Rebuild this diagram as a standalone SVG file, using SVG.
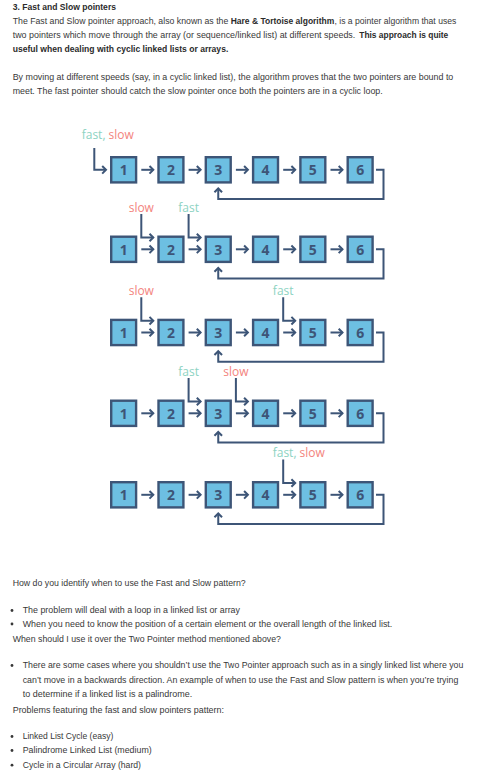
<svg xmlns="http://www.w3.org/2000/svg" width="477" height="774" viewBox="0 0 477 774">
<style>
.t{font-family:"Liberation Sans",Arial,sans-serif;font-size:8.8px;fill:#383838}
.b{font-weight:bold;fill:#2b2b2b}
.box{fill:#6dbfe2;stroke:#3d5577;stroke-width:2.4}
.num{font-family:"Open Sans","Liberation Sans",sans-serif;font-weight:bold;font-size:14px;fill:#3d5577;text-anchor:middle}
.lbl{font-family:"Open Sans","Liberation Sans",sans-serif;font-size:12px}
.fast{fill:#8dd3c2}
.slow{fill:#f3847d}
.m{text-anchor:middle}
.ln{fill:none;stroke:#3d5577;stroke-width:2;marker-end:url(#ah)}
.dot{fill:#383838}
</style>
<defs>
<marker id="ah" viewBox="0 0 10 10" refX="8" refY="5" markerWidth="10" markerHeight="10" markerUnits="userSpaceOnUse" orient="auto">
<path d="M4.2,1.2 L8,5 L4.2,8.8" fill="none" stroke="#3d5577" stroke-width="2"/>
</marker>
</defs>

<g id="intro">
<text class="t b" x="12.7" y="9.5" textLength="103.3" lengthAdjust="spacingAndGlyphs">3. Fast and Slow pointers</text>
<text class="t" x="12.7" y="23.7" textLength="215.6" lengthAdjust="spacingAndGlyphs">The Fast and Slow pointer approach, also known as the</text>
<text class="t b" x="230.7" y="23.7" textLength="103.6" lengthAdjust="spacingAndGlyphs">Hare &amp; Tortoise algorithm</text>
<text class="t" x="334.5" y="23.7" textLength="121.8" lengthAdjust="spacingAndGlyphs">, is a pointer algorithm that uses</text>
<text class="t" x="12.7" y="38" textLength="342.6" lengthAdjust="spacingAndGlyphs">two pointers which move through the array (or sequence/linked list) at different speeds.</text>
<text class="t b" x="359.3" y="38" textLength="89" lengthAdjust="spacingAndGlyphs">This approach is quite</text>
<text class="t b" x="12.7" y="52.3" textLength="215.6" lengthAdjust="spacingAndGlyphs">useful when dealing with cyclic linked lists or arrays.</text>
<text class="t" x="12.7" y="80" textLength="440.6" lengthAdjust="spacingAndGlyphs">By moving at different speeds (say, in a cyclic linked list), the algorithm proves that the two pointers are bound to</text>
<text class="t" x="12.7" y="94.3" textLength="370" lengthAdjust="spacingAndGlyphs">meet. The fast pointer should catch the slow pointer once both the pointers are in a cyclic loop.</text>
</g>

<!-- Row 1 -->
<g id="row1" transform="translate(0,156)">
<g id="r1n1"><rect class="box" x="111.2" y="1.2" width="24.9" height="25.2"/><text class="num" x="123.65" y="19">1</text></g>
<g id="r1n2"><rect class="box" x="158.5" y="1.2" width="24.9" height="25.2"/><text class="num" x="170.95" y="19">2</text></g>
<g id="r1n3"><rect class="box" x="205.8" y="1.2" width="24.9" height="25.2"/><text class="num" x="218.25" y="19">3</text></g>
<g id="r1n4"><rect class="box" x="253.1" y="1.2" width="24.9" height="25.2"/><text class="num" x="265.55" y="19">4</text></g>
<g id="r1n5"><rect class="box" x="300.4" y="1.2" width="24.9" height="25.2"/><text class="num" x="312.85" y="19">5</text></g>
<g id="r1n6"><rect class="box" x="347.7" y="1.2" width="24.9" height="25.2"/><text class="num" x="360.15" y="19">6</text></g>
<g id="r1labels"><text class="lbl" x="81.7" y="-17"><tspan class="fast">fast,</tspan><tspan class="slow"> slow</tspan></text></g>
<g id="r1connectors">
<path class="ln" d="M141.3,13.8 H153.3"/>
<path class="ln" d="M188.6,13.8 H200.6"/>
<path class="ln" d="M235.9,13.8 H247.9"/>
<path class="ln" d="M283.2,13.8 H295.2"/>
<path class="ln" d="M330.5,13.8 H342.5"/>
<path class="ln" d="M376,13.8 H383.5 V43 H218.25 V32.5"/>
<path class="ln" d="M94.3,-8 V13.8 H106"/>
</g>
</g>

<!-- Row 2 -->
<g id="row2" transform="translate(0,235.5)">
<g id="r2n1"><rect class="box" x="111.2" y="1.2" width="24.9" height="25.2"/><text class="num" x="123.65" y="19">1</text></g>
<g id="r2n2"><rect class="box" x="158.5" y="1.2" width="24.9" height="25.2"/><text class="num" x="170.95" y="19">2</text></g>
<g id="r2n3"><rect class="box" x="205.8" y="1.2" width="24.9" height="25.2"/><text class="num" x="218.25" y="19">3</text></g>
<g id="r2n4"><rect class="box" x="253.1" y="1.2" width="24.9" height="25.2"/><text class="num" x="265.55" y="19">4</text></g>
<g id="r2n5"><rect class="box" x="300.4" y="1.2" width="24.9" height="25.2"/><text class="num" x="312.85" y="19">5</text></g>
<g id="r2n6"><rect class="box" x="347.7" y="1.2" width="24.9" height="25.2"/><text class="num" x="360.15" y="19">6</text></g>
<g id="r2labels">
<text class="lbl slow m" x="141.3" y="-24">slow</text>
<text class="lbl fast m" x="188.6" y="-24">fast</text>
</g>
<g id="r2connectors">
<path class="ln" d="M141.3,13.8 H153.3"/>
<path class="ln" d="M188.6,13.8 H200.6"/>
<path class="ln" d="M235.9,13.8 H247.9"/>
<path class="ln" d="M283.2,13.8 H295.2"/>
<path class="ln" d="M330.5,13.8 H342.5"/>
<path class="ln" d="M376,13.8 H383.5 V43 H218.25 V32.5"/>
<path class="ln" d="M141.3,-21.5 V2 H153.3"/>
<path class="ln" d="M188.6,-21.5 V2 H200.6"/>
</g>
</g>

<!-- Row 3 -->
<g id="row3" transform="translate(0,318.7)">
<g id="r3n1"><rect class="box" x="111.2" y="1.2" width="24.9" height="25.2"/><text class="num" x="123.65" y="19">1</text></g>
<g id="r3n2"><rect class="box" x="158.5" y="1.2" width="24.9" height="25.2"/><text class="num" x="170.95" y="19">2</text></g>
<g id="r3n3"><rect class="box" x="205.8" y="1.2" width="24.9" height="25.2"/><text class="num" x="218.25" y="19">3</text></g>
<g id="r3n4"><rect class="box" x="253.1" y="1.2" width="24.9" height="25.2"/><text class="num" x="265.55" y="19">4</text></g>
<g id="r3n5"><rect class="box" x="300.4" y="1.2" width="24.9" height="25.2"/><text class="num" x="312.85" y="19">5</text></g>
<g id="r3n6"><rect class="box" x="347.7" y="1.2" width="24.9" height="25.2"/><text class="num" x="360.15" y="19">6</text></g>
<g id="r3labels">
<text class="lbl slow m" x="141.3" y="-24">slow</text>
<text class="lbl fast m" x="283.2" y="-24">fast</text>
</g>
<g id="r3connectors">
<path class="ln" d="M141.3,13.8 H153.3"/>
<path class="ln" d="M188.6,13.8 H200.6"/>
<path class="ln" d="M235.9,13.8 H247.9"/>
<path class="ln" d="M283.2,13.8 H295.2"/>
<path class="ln" d="M330.5,13.8 H342.5"/>
<path class="ln" d="M376,13.8 H383.5 V43 H218.25 V32.5"/>
<path class="ln" d="M141.3,-21.5 V2 H153.3"/>
<path class="ln" d="M283.2,-21.5 V2 H295.2"/>
</g>
</g>

<!-- Row 4 -->
<g id="row4" transform="translate(0,399.5)">
<g id="r4n1"><rect class="box" x="111.2" y="1.2" width="24.9" height="25.2"/><text class="num" x="123.65" y="19">1</text></g>
<g id="r4n2"><rect class="box" x="158.5" y="1.2" width="24.9" height="25.2"/><text class="num" x="170.95" y="19">2</text></g>
<g id="r4n3"><rect class="box" x="205.8" y="1.2" width="24.9" height="25.2"/><text class="num" x="218.25" y="19">3</text></g>
<g id="r4n4"><rect class="box" x="253.1" y="1.2" width="24.9" height="25.2"/><text class="num" x="265.55" y="19">4</text></g>
<g id="r4n5"><rect class="box" x="300.4" y="1.2" width="24.9" height="25.2"/><text class="num" x="312.85" y="19">5</text></g>
<g id="r4n6"><rect class="box" x="347.7" y="1.2" width="24.9" height="25.2"/><text class="num" x="360.15" y="19">6</text></g>
<g id="r4labels">
<text class="lbl fast m" x="188.6" y="-24">fast</text>
<text class="lbl slow m" x="235.9" y="-24">slow</text>
</g>
<g id="r4connectors">
<path class="ln" d="M141.3,13.8 H153.3"/>
<path class="ln" d="M188.6,13.8 H200.6"/>
<path class="ln" d="M235.9,13.8 H247.9"/>
<path class="ln" d="M283.2,13.8 H295.2"/>
<path class="ln" d="M330.5,13.8 H342.5"/>
<path class="ln" d="M376,13.8 H383.5 V43 H218.25 V32.5"/>
<path class="ln" d="M188.6,-21.5 V2 H200.6"/>
<path class="ln" d="M235.9,-21.5 V2 H247.9"/>
</g>
</g>

<!-- Row 5 -->
<g id="row5" transform="translate(0,481)">
<g id="r5n1"><rect class="box" x="111.2" y="1.2" width="24.9" height="25.2"/><text class="num" x="123.65" y="19">1</text></g>
<g id="r5n2"><rect class="box" x="158.5" y="1.2" width="24.9" height="25.2"/><text class="num" x="170.95" y="19">2</text></g>
<g id="r5n3"><rect class="box" x="205.8" y="1.2" width="24.9" height="25.2"/><text class="num" x="218.25" y="19">3</text></g>
<g id="r5n4"><rect class="box" x="253.1" y="1.2" width="24.9" height="25.2"/><text class="num" x="265.55" y="19">4</text></g>
<g id="r5n5"><rect class="box" x="300.4" y="1.2" width="24.9" height="25.2"/><text class="num" x="312.85" y="19">5</text></g>
<g id="r5n6"><rect class="box" x="347.7" y="1.2" width="24.9" height="25.2"/><text class="num" x="360.15" y="19">6</text></g>
<g id="r5labels"><text class="lbl" x="272.7" y="-24"><tspan class="fast">fast,</tspan><tspan class="slow"> slow</tspan></text></g>
<g id="r5connectors">
<path class="ln" d="M141.3,13.8 H153.3"/>
<path class="ln" d="M188.6,13.8 H200.6"/>
<path class="ln" d="M235.9,13.8 H247.9"/>
<path class="ln" d="M283.2,13.8 H295.2"/>
<path class="ln" d="M330.5,13.8 H342.5"/>
<path class="ln" d="M376,13.8 H383.5 V43 H218.25 V32.5"/>
<path class="ln" d="M283.2,-21.5 V2 H295.2"/>
</g>
</g>

<g id="outro">
<text class="t" x="12.7" y="586" textLength="233" lengthAdjust="spacingAndGlyphs">How do you identify when to use the Fast and Slow pattern?</text>
<circle class="dot" cx="12" cy="610.5" r="1.4"/>
<text class="t" x="22.7" y="613.3" textLength="217.3" lengthAdjust="spacingAndGlyphs">The problem will deal with a loop in a linked list or array</text>
<circle class="dot" cx="12" cy="624" r="1.4"/>
<text class="t" x="22.7" y="626.7" textLength="369.6" lengthAdjust="spacingAndGlyphs">When you need to know the position of a certain element or the overall length of the linked list.</text>
<text class="t" x="12.7" y="641.7" textLength="268.3" lengthAdjust="spacingAndGlyphs">When should I use it over the Two Pointer method mentioned above?</text>
<circle class="dot" cx="12" cy="665.5" r="1.4"/>
<text class="t" x="22.7" y="668.3" textLength="440.6" lengthAdjust="spacingAndGlyphs">There are some cases where you shouldn’t use the Two Pointer approach such as in a singly linked list where you</text>
<text class="t" x="22.7" y="683" textLength="435.6" lengthAdjust="spacingAndGlyphs">can’t move in a backwards direction. An example of when to use the Fast and Slow pattern is when you’re trying</text>
<text class="t" x="22.7" y="696.7" textLength="169.6" lengthAdjust="spacingAndGlyphs">to determine if a linked list is a palindrome.</text>
<text class="t" x="12.7" y="713.3" textLength="211.3" lengthAdjust="spacingAndGlyphs">Problems featuring the fast and slow pointers pattern:</text>
<circle class="dot" cx="12" cy="736.5" r="1.4"/>
<text class="t" x="22.7" y="739.3" textLength="90.6" lengthAdjust="spacingAndGlyphs">Linked List Cycle (easy)</text>
<circle class="dot" cx="12" cy="750.5" r="1.4"/>
<text class="t" x="22.7" y="753.3" textLength="129" lengthAdjust="spacingAndGlyphs">Palindrome Linked List (medium)</text>
<circle class="dot" cx="12" cy="765.2" r="1.4"/>
<text class="t" x="22.7" y="768" textLength="118.3" lengthAdjust="spacingAndGlyphs">Cycle in a Circular Array (hard)</text>
</g>
</svg>
